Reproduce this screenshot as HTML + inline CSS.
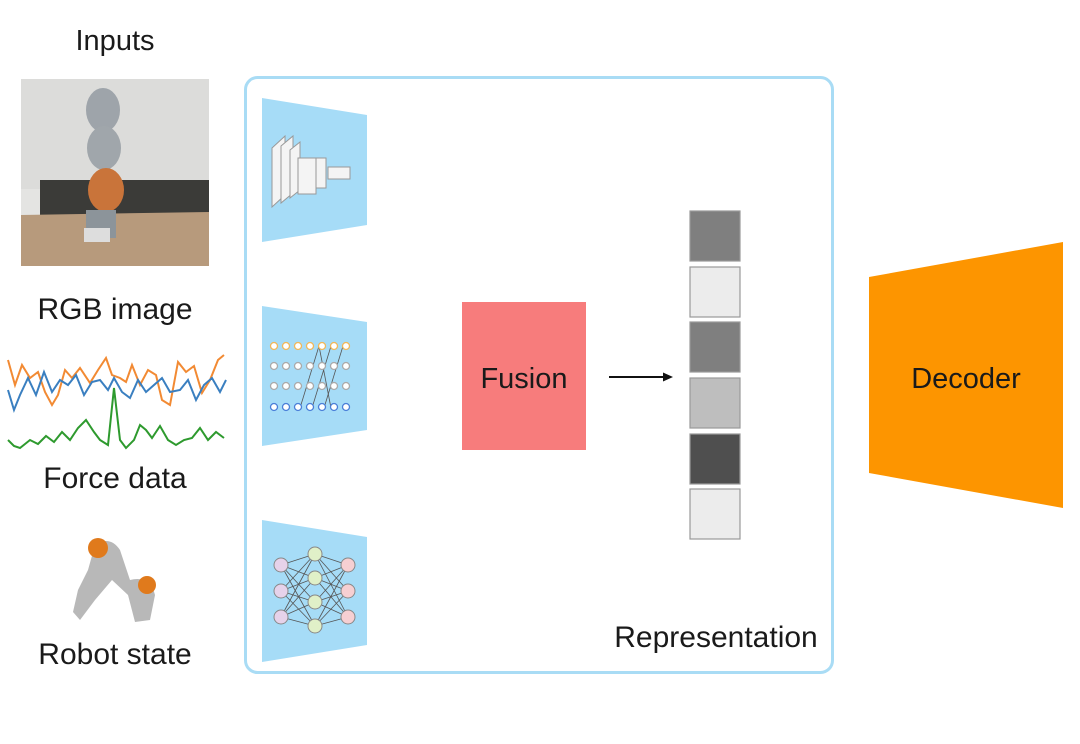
<!DOCTYPE html>
<html><head><meta charset="utf-8"><style>
html,body{margin:0;padding:0;background:#fff;width:1080px;height:744px;overflow:hidden}
text{font-family:"Liberation Sans",Arial,sans-serif;fill:#1a1a1a}
</style></head><body>
<svg width="1080" height="744" viewBox="0 0 1080 744" xmlns="http://www.w3.org/2000/svg">
<text x="115" y="50" font-size="29" text-anchor="middle">Inputs</text>
<!-- RGB image -->
<rect x="21" y="79" width="188" height="187" fill="#e4e4e2"/>
<rect x="21" y="79" width="188" height="110" fill="#dcdcda"/>
<rect x="40" y="180" width="169" height="40" fill="#3b3b38"/>
<polygon points="21,215 209,212 209,266 21,266" fill="#b79a7c"/>
<ellipse cx="103" cy="110" rx="17" ry="22" fill="#9ea4aa"/>
<ellipse cx="104" cy="148" rx="17" ry="22" fill="#a0a6ab"/>
<ellipse cx="106" cy="190" rx="18" ry="22" fill="#c9743a"/>
<rect x="86" y="210" width="30" height="28" fill="#8c949a"/>
<rect x="84" y="228" width="26" height="14" fill="#ddd"/>
<text x="115" y="319" font-size="30" text-anchor="middle">RGB image</text>
<!-- force -->
<polyline fill="none" stroke="#f28a33" stroke-width="2" points="8,360 15,385 22,365 30,378 38,372 45,392 52,405 58,395 65,370 72,378 80,368 90,383 98,370 106,358 112,375 120,378 126,382 132,365 140,385 148,370 156,375 162,400 170,405 178,362 186,372 194,366 202,393 210,380 218,360 224,355"/>
<polyline fill="none" stroke="#3a7fc0" stroke-width="2" points="8,390 14,410 20,395 28,378 36,395 44,372 52,392 60,380 68,385 76,375 84,395 92,382 100,380 108,390 114,378 122,392 130,398 138,380 146,392 154,385 162,378 170,392 180,390 188,380 196,400 204,385 212,378 220,392 226,380"/>
<polyline fill="none" stroke="#2e9a2e" stroke-width="2" points="8,440 14,446 20,448 30,440 38,444 46,436 54,442 62,432 70,440 78,428 86,420 94,432 100,440 108,445 114,388 120,440 126,448 134,440 140,425 146,430 152,438 160,426 168,440 176,445 184,440 192,438 200,428 208,440 216,432 224,438"/>
<text x="115" y="488" font-size="30" text-anchor="middle">Force data</text>
<!-- robot state -->
<path d="M95,545 Q110,535 120,550 L130,580 Q150,575 155,595 L150,620 L135,622 L128,595 L112,580 L95,600 L80,620 L73,612 L78,590 L88,570 Z" fill="#b8b8b8"/>
<circle cx="98" cy="548" r="10" fill="#e07a1c"/>
<circle cx="147" cy="585" r="9" fill="#e07a1c"/>
<text x="115" y="664" font-size="30" text-anchor="middle">Robot state</text>
<!-- big box -->
<rect x="245.5" y="77.5" width="587" height="595" rx="12" fill="none" stroke="#a9dcf5" stroke-width="3"/>
<!-- encoders -->
<polygon points="262,98 367,115 367,225 262,242" fill="#a6dcf7"/>
<g fill="#f4f4f4" stroke="#999" stroke-width="1">
<polygon points="272,148 285,136 285,195 272,207"/>
<polygon points="281,146 293,136 293,193 281,203"/>
<polygon points="290,150 300,142 300,190 290,198"/>
<rect x="298" y="158" width="18" height="36"/>
<rect x="316" y="158" width="10" height="30"/>
<rect x="328" y="167" width="22" height="12"/>
</g>
<polygon points="262,306 367,322 367,430 262,446" fill="#a6dcf7"/>
<g stroke="#555" stroke-width="0.8" fill="none">
<line x1="319" y1="346" x2="300" y2="408"/><line x1="331" y1="346" x2="312" y2="408"/><line x1="343" y1="346" x2="324" y2="408"/><line x1="319" y1="346" x2="331" y2="408"/>
</g>
<g stroke-width="1.3" fill="#fff">
<g stroke="#f0b75a"><circle cx="274" cy="346" r="3.5"/><circle cx="286" cy="346" r="3.5"/><circle cx="298" cy="346" r="3.5"/><circle cx="310" cy="346" r="3.5"/><circle cx="322" cy="346" r="3.5"/><circle cx="334" cy="346" r="3.5"/><circle cx="346" cy="346" r="3.5"/></g>
<g stroke="#aaa"><circle cx="274" cy="366" r="3.5"/><circle cx="286" cy="366" r="3.5"/><circle cx="298" cy="366" r="3.5"/><circle cx="310" cy="366" r="3.5"/><circle cx="322" cy="366" r="3.5"/><circle cx="334" cy="366" r="3.5"/><circle cx="346" cy="366" r="3.5"/>
<circle cx="274" cy="386" r="3.5"/><circle cx="286" cy="386" r="3.5"/><circle cx="298" cy="386" r="3.5"/><circle cx="310" cy="386" r="3.5"/><circle cx="322" cy="386" r="3.5"/><circle cx="334" cy="386" r="3.5"/><circle cx="346" cy="386" r="3.5"/></g>
<g stroke="#4a7fd8"><circle cx="274" cy="407" r="3.5"/><circle cx="286" cy="407" r="3.5"/><circle cx="298" cy="407" r="3.5"/><circle cx="310" cy="407" r="3.5"/><circle cx="322" cy="407" r="3.5"/><circle cx="334" cy="407" r="3.5"/><circle cx="346" cy="407" r="3.5"/></g>
</g>
<polygon points="262,520 367,537 367,645 262,662" fill="#a6dcf7"/>
<g stroke="#555" stroke-width="0.8">
<line x1="281" y1="565" x2="315" y2="554"/><line x1="281" y1="565" x2="315" y2="578"/><line x1="281" y1="565" x2="315" y2="602"/><line x1="281" y1="565" x2="315" y2="626"/>
<line x1="281" y1="591" x2="315" y2="554"/><line x1="281" y1="591" x2="315" y2="578"/><line x1="281" y1="591" x2="315" y2="602"/><line x1="281" y1="591" x2="315" y2="626"/>
<line x1="281" y1="617" x2="315" y2="554"/><line x1="281" y1="617" x2="315" y2="578"/><line x1="281" y1="617" x2="315" y2="602"/><line x1="281" y1="617" x2="315" y2="626"/>
<line x1="348" y1="565" x2="315" y2="554"/><line x1="348" y1="565" x2="315" y2="578"/><line x1="348" y1="565" x2="315" y2="602"/><line x1="348" y1="565" x2="315" y2="626"/>
<line x1="348" y1="591" x2="315" y2="554"/><line x1="348" y1="591" x2="315" y2="578"/><line x1="348" y1="591" x2="315" y2="602"/><line x1="348" y1="591" x2="315" y2="626"/>
<line x1="348" y1="617" x2="315" y2="554"/><line x1="348" y1="617" x2="315" y2="578"/><line x1="348" y1="617" x2="315" y2="602"/><line x1="348" y1="617" x2="315" y2="626"/>
</g>
<g stroke="#888" stroke-width="1">
<circle cx="281" cy="565" r="7" fill="#e6d2ea"/><circle cx="281" cy="591" r="7" fill="#e6d2ea"/><circle cx="281" cy="617" r="7" fill="#e6d2ea"/>
<circle cx="315" cy="554" r="7" fill="#e0f0c8"/><circle cx="315" cy="578" r="7" fill="#e0f0c8"/><circle cx="315" cy="602" r="7" fill="#e0f0c8"/><circle cx="315" cy="626" r="7" fill="#e0f0c8"/>
<circle cx="348" cy="565" r="7" fill="#f6cfd2"/><circle cx="348" cy="591" r="7" fill="#f6cfd2"/><circle cx="348" cy="617" r="7" fill="#f6cfd2"/>
</g>
<!-- fusion -->
<rect x="462" y="302" width="124" height="148" fill="#f77c7c"/>
<text x="524" y="388" font-size="29" text-anchor="middle">Fusion</text>
<line x1="609" y1="377" x2="666" y2="377" stroke="#111" stroke-width="2"/>
<polygon points="673,377 663,372.5 663,381.5" fill="#111"/>
<!-- representation -->
<g stroke="#999" stroke-width="1.2">
<rect x="690" y="211" width="50" height="50" fill="#7f7f7f"/>
<rect x="690" y="267" width="50" height="50" fill="#ececec"/>
<rect x="690" y="322" width="50" height="50" fill="#7f7f7f"/>
<rect x="690" y="378" width="50" height="50" fill="#bebebe"/>
<rect x="690" y="434" width="50" height="50" fill="#4f4f4f"/>
<rect x="690" y="489" width="50" height="50" fill="#ececec"/>
</g>
<text x="716" y="647" font-size="30" text-anchor="middle">Representation</text>
<!-- decoder -->
<polygon points="869,277 1063,242 1063,508 869,473" fill="#fd9500"/>
<text x="966" y="388" font-size="29" text-anchor="middle">Decoder</text>
</svg>
</body></html>
